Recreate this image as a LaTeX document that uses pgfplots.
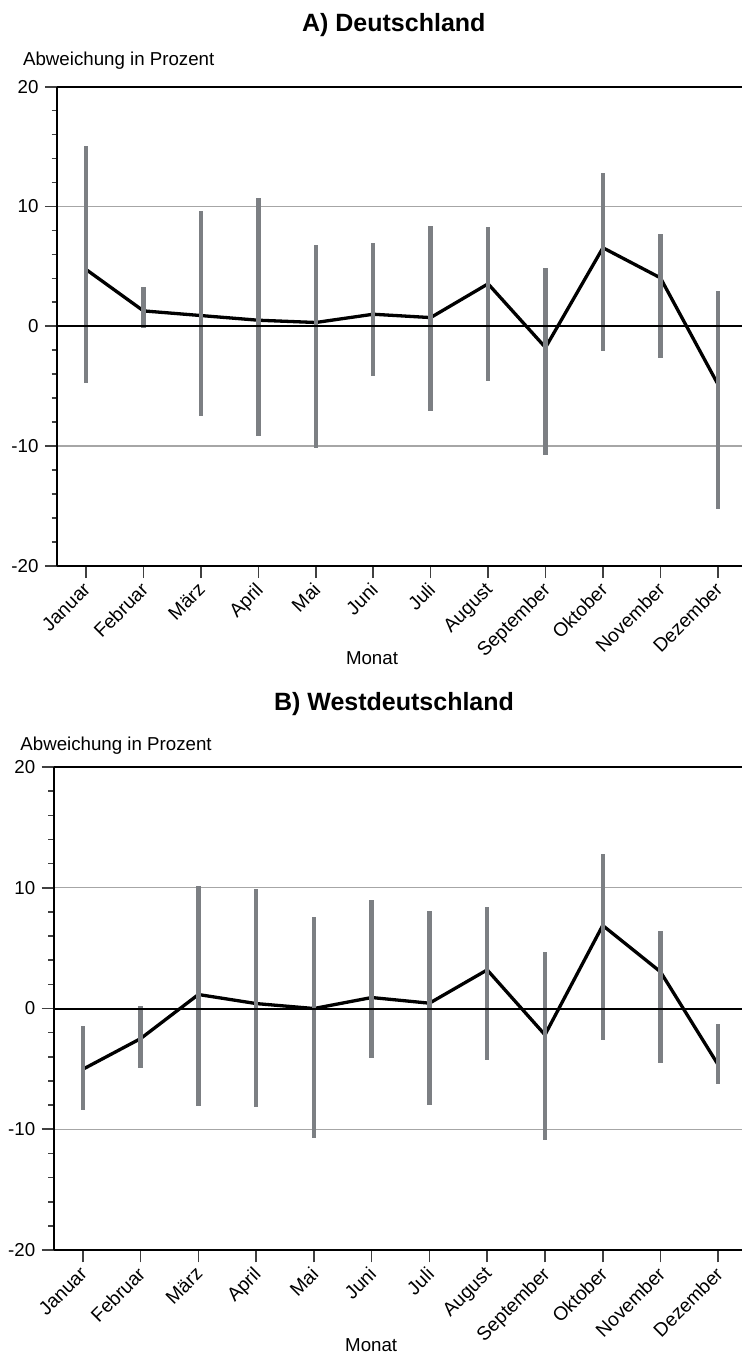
\documentclass[border=0pt]{standalone}
\usepackage{fontspec}
\setmainfont{Liberation Sans}
\usepackage{pgfplots}
\pgfplotsset{compat=1.18}
\usepackage{pgfplotstable}
\definecolor{barcol}{HTML}{7C7F83}
\definecolor{gridcol}{HTML}{A6A6A6}

\pgfplotstableread{
x m hi lo
0 4.74 15.07 -4.78
1 1.28 3.29 -0.17
2 0.89 9.61 -7.47
3 0.50 10.70 -9.17
4 0.31 6.77 -10.17
5 1.00 6.96 -4.17
6 0.72 8.36 -7.06
7 3.54 8.27 -4.56
8 -1.78 4.87 -10.75
9 6.55 12.79 -2.08
10 4.04 7.74 -2.69
11 -4.83 2.95 -15.28
}\dataA

\pgfplotstableread{
x m hi lo
0 -5.03 -1.41 -8.40
1 -2.49 0.22 -4.94
2 1.16 10.11 -8.07
3 0.41 9.92 -8.18
4 0.00 7.62 -10.69
5 0.91 9.00 -4.09
6 0.44 8.09 -7.96
7 3.20 8.40 -4.28
8 -2.18 4.72 -10.88
9 6.88 12.79 -2.60
10 3.04 6.38 -4.48
11 -4.67 -1.30 -6.27
}\dataB

\pgfplotsset{
  panel/.style={
    scale only axis,
    anchor=north west,
    ymin=-20, ymax=20,
    axis x line=box,
    axis y line=left,
    axis line style={-, line width=1pt, black},
    tick align=outside,
    xtick={0,...,11},
    xticklabels={Januar,Februar,März,April,Mai,Juni,Juli,August,September,Oktober,November,Dezember},
    xtick pos=lower,
    ytick pos=left,
    ytick={-20,-10,0,10,20},
    yticklabels={-20,-10,0,10,20},
    minor y tick num=4,
    major tick length=6.2pt,
    minor tick length=2.8pt,
    tick style={line width=0.8pt, color=black!75},
    ymajorgrids=true,
    major grid style={line width=0.65pt, color=gridcol},
    yticklabel style={font=\fontsize{9.35}{11}\selectfont, inner sep=3pt},
    xticklabel style={font=\fontsize{9.6}{11}\selectfont, xshift=-2pt, rotate=45, anchor=north east, inner sep=1pt},
  },
  databars/.style={
    black, line width=1.65pt, mark=none,
    error bars/.cd, y dir=both, y explicit,
    error bar style={line width=2.2pt, draw=barcol, solid},
    error mark=none,
  },
}

\begin{document}
\begin{tikzpicture}
\useasboundingbox (0,0) rectangle (371pt,-678.5pt);

% Panel A
\node[anchor=base, font=\fontsize{12.5}{14}\selectfont\bfseries] at (196.9pt,-15.85pt) {A) Deutschland};
\node[anchor=base west, inner sep=0pt, font=\fontsize{9.35}{11}\selectfont] at (11.35pt,-32.85pt) {Abweichung in Prozent};
\begin{axis}[panel, at={(28.65pt,-43.35pt)}, width=342.6pt, height=239.5pt, xmin=-0.5, xmax=11.43]
\addplot+[databars] table[x=x, y=m, y error plus expr=\thisrow{hi}-\thisrow{m}, y error minus expr=\thisrow{m}-\thisrow{lo}] {\dataA};
\addplot[black, line width=1pt, forget plot] coordinates {(-0.5,0) (11.5,0)};
\end{axis}
\node[anchor=base, inner sep=0pt, font=\fontsize{9.35}{11}\selectfont] at (186pt,-332pt) {Monat};

% Panel B
\node[anchor=base, font=\fontsize{12.5}{14}\selectfont\bfseries] at (197pt,-355pt) {B) Westdeutschland};
\node[anchor=base west, inner sep=0pt, font=\fontsize{9.35}{11}\selectfont] at (10pt,-375pt) {Abweichung in Prozent};
\begin{axis}[panel, at={(27pt,-383.5pt)}, width=344.25pt, height=241.5pt, xmin=-0.5, xmax=11.42]
\addplot+[databars] table[x=x, y=m, y error plus expr=\thisrow{hi}-\thisrow{m}, y error minus expr=\thisrow{m}-\thisrow{lo}] {\dataB};
\addplot[black, line width=1pt, forget plot] coordinates {(-0.5,0) (11.5,0)};
\end{axis}
\node[anchor=base, inner sep=0pt, font=\fontsize{9.35}{11}\selectfont] at (185.6pt,-675.8pt) {Monat};
\end{tikzpicture}
\end{document}
